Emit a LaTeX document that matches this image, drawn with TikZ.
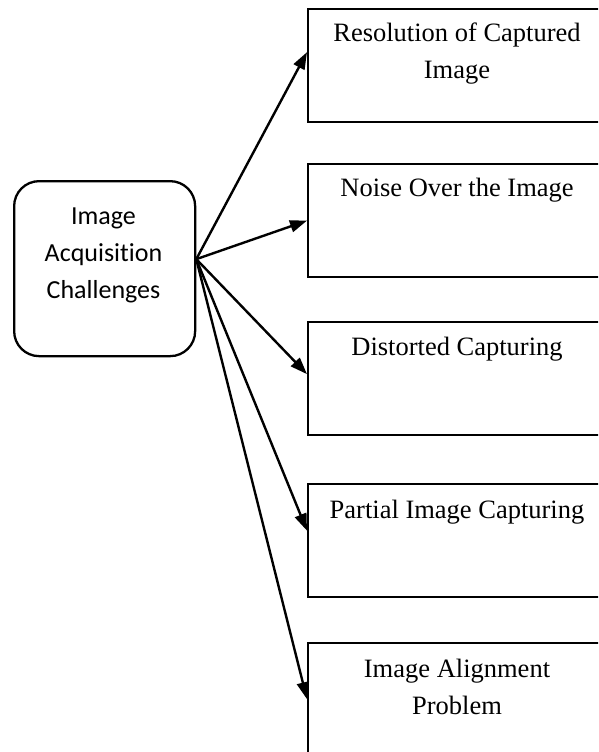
\documentclass[tikz,border=0pt]{standalone}
\usepackage{fontspec}
\setmainfont{Liberation Serif}
\newfontfamily\calib[Ligatures=NoCommon]{Carlito}
\usetikzlibrary{arrows.meta,calc}
\begin{document}
\begin{tikzpicture}[x=1pt,y=-1pt,
  box/.style={draw,line width=2.3pt,minimum width=300pt,minimum height=113pt,anchor=north west,inner sep=0pt},
  mainbox/.style={draw,line width=2.3pt,rounded corners=25pt,minimum width=181pt,minimum height=175pt,anchor=north west,inner sep=0pt},
  lbl/.style={font=\fontsize{26.5}{37}\selectfont,align=center,inner sep=0pt},
  mainlbl/.style={font=\calib\fontsize{26}{37}\selectfont,align=center,inner sep=0pt},
  arr/.style={-{Triangle[length=17pt,width=12pt]},line width=2.4pt}]
\useasboundingbox (0,0) rectangle (598,752);
\clip (0,0) rectangle (598,752);
\fill[white] (0,0) rectangle (598,752);

\node[mainbox] (m) at (13,180) {};
\node[mainlbl] (mt) at (103.5,255) {Image\\Acquisition\\Challenges};

\node[box] (b1) at (307,8) {};
\node[box] (b2) at (307,163) {};
\node[box] (b3) at (307,321) {};
\node[box] (b4) at (307,483) {};
\node[box] (b5) at (307,642) {};

\node[lbl] (t1) at (457,53.5) {Resolution of Captured\\Image};
\node[lbl] (t2) at (457,190) {Noise Over the Image};
\node[lbl] (t3) at (457,349) {Distorted Capturing};
\node[lbl] (t4) at (457,512) {Partial Image Capturing};
\node[lbl] (t5) at (457,686.5) {Image Alignment\\Problem};

\coordinate (o) at ([yshift=9.5pt]m.east);
\draw[arr] (o) -- ([yshift=13.5pt]b1.west);
\draw[arr] (o) -- (b2.west);
\draw[arr] (o) -- ([yshift=4.5pt]b3.west);
\draw[arr] (o) -- ([yshift=10pt]b4.west);
\draw[arr] (o) -- ([yshift=0.5pt]b5.west);
\end{tikzpicture}
\end{document}
